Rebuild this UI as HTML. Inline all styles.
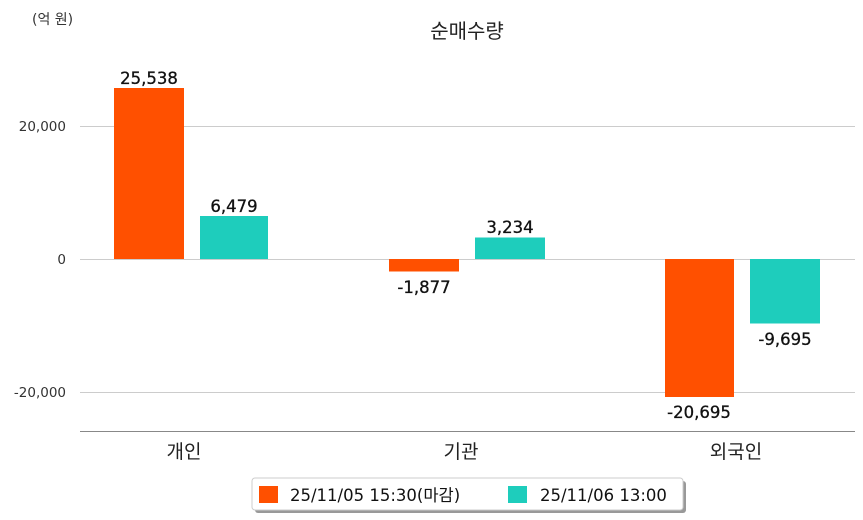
<!DOCTYPE html>
<html><head><meta charset="utf-8"><style>
html,body{margin:0;padding:0;background:#fff}
svg{display:block;font-family:"DejaVu Sans","Noto Sans CJK KR",sans-serif}
</style></head><body>
<svg width="863" height="520" viewBox="0 0 863 520">
<text x="32" y="24" font-size="14" fill="#333">(억 원)</text>
<text x="467" y="38" font-size="20" fill="#222" text-anchor="middle">순매수량</text>
<g stroke="#cccccc" stroke-width="1">
<line x1="80" y1="126.5" x2="855" y2="126.5"/>
<line x1="80" y1="259.5" x2="855" y2="259.5"/>
<line x1="80" y1="392.5" x2="855" y2="392.5"/>
</g>
<line x1="80" y1="431.5" x2="855" y2="431.5" stroke="#888" stroke-width="1"/>
<g font-size="13.5" fill="#333" text-anchor="end">
<text x="66" y="131">20,000</text>
<text x="66" y="264">0</text>
<text x="66" y="397">-20,000</text>
</g>
<g fill="#ff5000">
<rect x="114" y="88" width="70" height="171"/>
<rect x="389" y="259" width="70" height="12.5"/>
<rect x="665" y="259" width="69" height="138"/>
</g>
<g fill="#1ecdbc">
<rect x="200" y="216" width="68" height="43"/>
<rect x="475" y="237.5" width="70" height="21.5"/>
<rect x="750" y="259" width="70" height="64.5"/>
</g>
<g font-size="16.5" fill="#111" text-anchor="middle" stroke="#111" stroke-width="0.3">
<text x="149" y="84">25,538</text>
<text x="234" y="212">6,479</text>
<text x="424" y="293">-1,877</text>
<text x="510" y="233">3,234</text>
<text x="699" y="418">-20,695</text>
<text x="785" y="345">-9,695</text>
</g>
<g font-size="19" fill="#222" text-anchor="middle">
<text x="184" y="458">개인</text>
<text x="461" y="458">기관</text>
<text x="736" y="458">외국인</text>
</g>
<rect x="255" y="481" width="431" height="32" rx="3" fill="#999"/>
<rect x="252" y="478" width="431" height="32" rx="3" fill="#fff" stroke="#ccc"/>
<rect x="259" y="486" width="19" height="17" fill="#ff5000"/>
<text x="290" y="501" font-size="16.5" fill="#111">25/11/05 15:30(마감)</text>
<rect x="508" y="486" width="19" height="17" fill="#1ecdbc"/>
<text x="540" y="501" font-size="16.5" fill="#111">25/11/06 13:00</text>
</svg>
</body></html>
